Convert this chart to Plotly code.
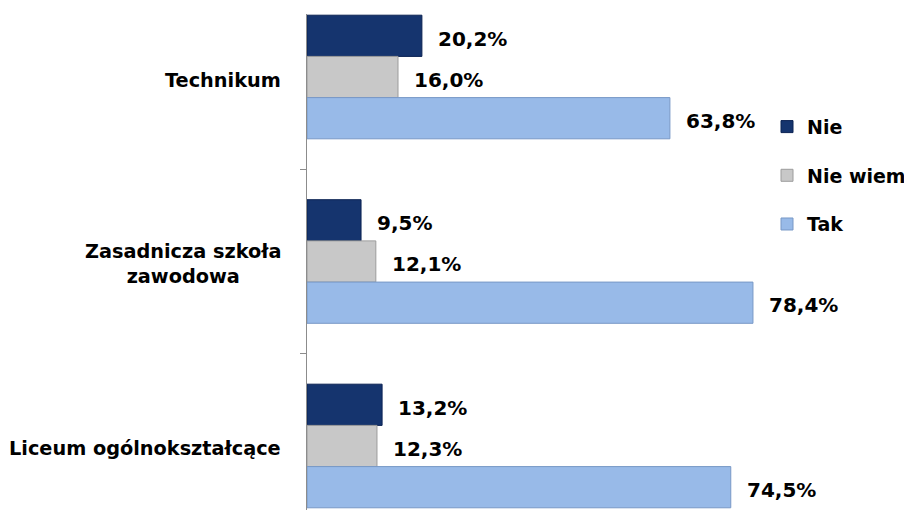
import plotly.graph_objects as go

categories = ["Technikum", "Zasadnicza szkoła<br>zawodowa", "Liceum ogólnokształcące"]
series_names = ["Nie", "Nie wiem", "Tak"]
nie = [20.2, 9.5, 13.2]
nie_wiem = [16.0, 12.1, 12.3]
tak = [63.8, 78.4, 74.5]

COLORS = ["#15346E", "#C8C8C8", "#98BAE8"]
LINES = ["#0B2253", "#9C9C9C", "#7898C6"]
FONT = "DejaVu Sans"

fig = go.Figure()

for name, values, color, line in zip(series_names, [nie, nie_wiem, tak], COLORS, LINES):
    fig.add_trace(go.Bar(
        y=categories,
        x=values,
        name=name,
        orientation="h",
        marker=dict(color=color, line=dict(color=line, width=1)),
        legendgroup=name,
        hoverinfo="x+name",
    ))

annotations = []
# value labels next to the bar ends
for i, values in enumerate([nie, nie_wiem, tak]):
    for cat, v in zip(categories, values):
        annotations.append(dict(
            x=v, y=cat, xref="x", yref="y",
            text=f"{v:.1f}%".replace(".", ","),
            showarrow=False, xanchor="left", xshift=14,
            yshift=(1 - i) * 41 - 3,
            font=dict(family=FONT, size=20, color="black", weight="bold"),
        ))

# category labels, centred when they wrap
for cat in categories:
    annotations.append(dict(
        x=0, y=cat, xref="paper", yref="y",
        text=cat, showarrow=False, xanchor="right", align="center",
        xshift=-24, yshift=-3,
        font=dict(family=FONT, size=19.3, color="black", weight="bold"),
    ))

# page body adds an 8px offset, margins are compensated for it
fig.update_layout(
    width=912, height=511,
    margin=dict(l=299, r=113, t=6, b=9, autoexpand=False),
    paper_bgcolor="white", plot_bgcolor="white",
    barmode="group", bargap=0.33, bargroupgap=0,
    showlegend=True,
    legend=dict(
        x=0.92, y=0.811, xanchor="left", yanchor="top",
        font=dict(family=FONT, size=19, color="black", weight="bold"),
        tracegroupgap=21, bgcolor="rgba(0,0,0,0)",
        itemwidth=30,
    ),
    xaxis=dict(range=[0, 87.9], visible=False),
    yaxis=dict(
        range=[2.347, -0.3415], showticklabels=False,
        showline=True, linecolor="#8C8C8C", linewidth=1,
        ticks="outside", tickson="boundaries", ticklen=6, tickcolor="#8C8C8C",
        showgrid=False, zeroline=False,
    ),
    annotations=annotations,
)

fig.write_html("out.html")
